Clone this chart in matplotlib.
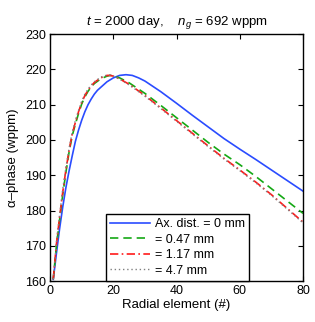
import matplotlib
matplotlib.use("Agg")
import matplotlib.pyplot as plt

plt.rcParams['font.family'] = ['Liberation Sans', 'DejaVu Sans']
plt.rcParams['mathtext.fontset'] = 'custom'
plt.rcParams['mathtext.it'] = 'Liberation Sans:italic'
plt.rcParams['mathtext.rm'] = 'Liberation Sans'

# radial element positions and alpha-phase values (wppm)
x_blue = [1, 2, 3, 4, 5, 6, 7, 8, 9, 10, 11, 12, 13, 14, 15, 16, 18, 20, 22, 24, 26, 28, 30,
          35, 40, 45, 50, 55, 60, 65, 70, 75, 80]
y_blue = [160.5, 167.8, 174.8, 181, 186.5, 191.2, 195.5, 199.6, 202.8, 205.6, 208, 210, 211.6,
          213, 214.1, 214.9, 216.5, 217.6, 218.3, 218.5, 218.3, 217.6, 216.7,
          213.7, 210.4, 207, 203.7, 200.4, 197.4, 194.5, 191.5, 188.5, 185.5]

x_green = [1, 2, 3, 4, 5, 6, 7, 8, 9, 10, 11, 12, 13, 14, 16, 18, 19, 20, 22, 25, 30,
           35, 40, 45, 50, 55, 60, 65, 70, 75, 80]
y_green = [160.5, 170, 177.3, 184.5, 190.8, 196.5, 201.2, 204.5, 207.5, 210.2, 212.2, 213.8,
           215, 216, 217.3, 218.1, 218.3, 218.2, 217.6, 216.2, 213.2,
           209.8, 206.3, 202.8, 199.3, 196, 193, 189.7, 186.2, 182.7, 179.2]

x_red = [1, 2, 3, 4, 5, 6, 7, 8, 9, 10, 11, 12, 13, 14, 16, 18, 19, 20, 22, 25, 30,
         35, 40, 45, 50, 55, 60, 65, 70, 75, 80]
y_red = [160.5, 170.5, 178, 185.2, 191.5, 197, 201.7, 205, 208, 210.6, 212.6, 214.1,
         215.3, 216.3, 217.6, 218.3, 218.3, 218.1, 217.3, 215.8, 212.6,
         209.1, 205.5, 201.9, 198.3, 194.8, 191.5, 188.1, 184.5, 180.6, 176.7]

x_gray = [1, 2, 3, 4, 5, 6, 7, 8, 9, 10, 11, 12, 13, 14, 16, 18, 19, 20, 22, 25, 30,
          35, 40, 45, 50, 55, 60, 65, 70, 75, 80]
y_gray = [160.5, 171, 178.7, 186, 192.2, 197.6, 202.2, 205.5, 208.4, 211, 213, 214.4,
          215.6, 216.5, 217.8, 218.4, 218.4, 218.1, 217.2, 215.6, 212.4,
          208.9, 205.3, 201.7, 198.1, 194.6, 191.3, 187.9, 184.3, 180.4, 176.5]

labels = ['Ax. dist. = 0 mm', '= 0.47 mm', '= 1.17 mm', '= 4.7 mm']

fig = plt.figure(figsize=(3.15, 3.22), dpi=100)
ax = fig.add_axes([0.159, 0.127, 0.803, 0.767])

ax.plot(x_blue, y_blue, color='#2a4cff', lw=1.2, label=labels[0])
ax.plot(x_green, y_green, color='#14a814', lw=1.2, ls=(0, (5, 3)), label=labels[1])
ax.plot(x_red, y_red, color='#ff1a1a', lw=1.2, ls=(0, (5, 2, 1, 2)), label=labels[2])
ax.plot(x_gray, y_gray, color='#808080', lw=1.0, ls=(0, (1, 2)), label=labels[3])

ax.set_xlim(0, 80)
ax.set_ylim(160, 230)
ax.set_xticks([0, 20, 40, 60, 80])
ax.set_yticks(range(160, 231, 10))
ax.tick_params(direction='in', top=True, right=True, labelsize=9, length=3.5, width=0.8, pad=3)
for s in ax.spines.values():
    s.set_linewidth(1.0)

ax.set_xlabel('Radial element (#)', fontsize=9.5, labelpad=1)
ax.set_ylabel('α–phase (wppm)', fontsize=9.5, labelpad=4)
ax.set_title('$t$ = 2000 day,    $n_g$ = 692 wppm', fontsize=9.5, pad=7)

leg = ax.legend(loc='lower left', bbox_to_anchor=(0.22, 0.0), fontsize=9,
                frameon=True, fancybox=False, edgecolor='black', framealpha=1,
                handlelength=3.2, handletextpad=0.4, borderpad=0.35, labelspacing=0.28,
                borderaxespad=0)
leg.get_frame().set_linewidth(1.0)

fig.savefig('out.png', dpi=100)
